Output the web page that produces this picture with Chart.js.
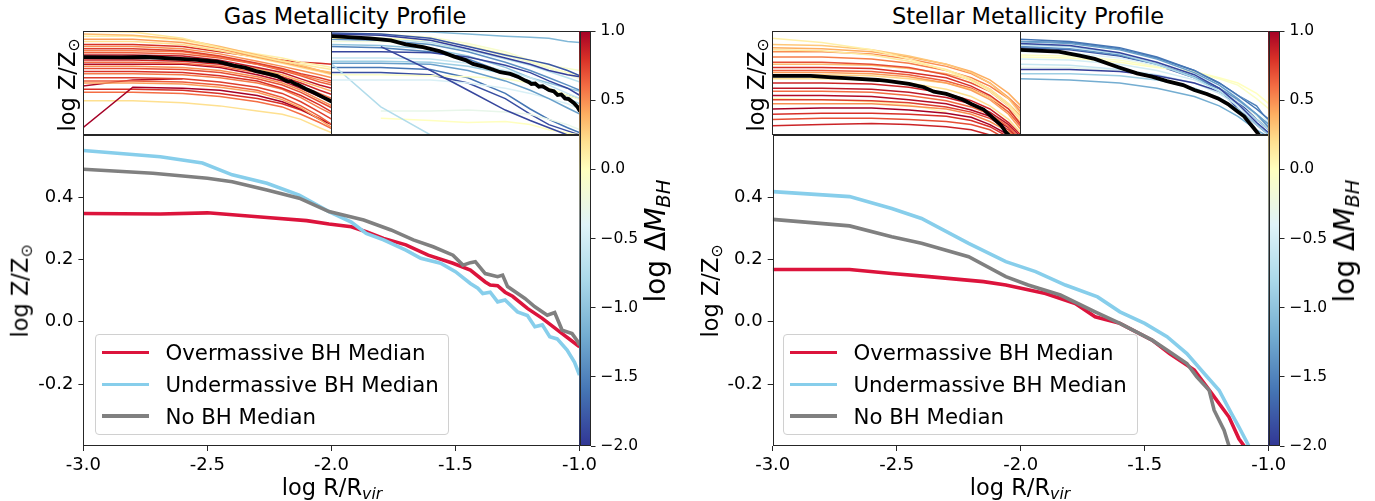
<!DOCTYPE html>
<html lang="en">
<head>
<meta charset="UTF-8">
<title>Gas and Stellar Metallicity Profiles</title>
<style>
    body { margin: 0; background: #fff; font-family: "DejaVu Sans", sans-serif; }
    #fig { position: relative; width: 1375px; height: 501px; overflow: hidden; }
    canvas { position: absolute; }
    .txt { position: absolute; white-space: nowrap; line-height: 1; color: #000; }
    .title { font-size: 22.5px; transform: translateX(-50%); }
    .xlabel { font-size: 22.5px; transform: translateX(-50%); }
    .vlabel { font-size: 22.5px; transform: translate(-50%, -50%) rotate(-90deg); }
    .cblabel { font-size: 28px; transform: translate(-50%, -50%) rotate(-90deg); }
    sub { font-size: 70%; vertical-align: -0.25em; line-height: 0; }
    .legend {
        position: absolute; box-sizing: border-box;
        border: 1px solid #d0d0d0; border-radius: 4px;
        background: rgba(255, 255, 255, 0.8);
    }
    .legend .row { position: absolute; left: 0; height: 22px; display: flex; align-items: center; font-size: 21.3px; white-space: nowrap; }
    .legend .swatch { display: inline-block; width: 47px; height: 3.6px; margin-left: 6px; margin-right: 16.5px; }
</style>
</head>
<body>
<div id="fig">
    <canvas id="gasMain" width="600" height="376" style="left:0px;top:125px"></canvas>
    <canvas id="gasOverInset" width="249" height="104" style="left:83px;top:31px"></canvas>
    <canvas id="gasUnderInset" width="249" height="104" style="left:331px;top:31px"></canvas>
    <canvas id="gasCbar" width="80" height="440" style="left:570px;top:20px"></canvas>

    <canvas id="starMain" width="600" height="376" style="left:690px;top:125px"></canvas>
    <canvas id="starOverInset" width="249" height="104" style="left:772px;top:31px"></canvas>
    <canvas id="starUnderInset" width="249" height="104" style="left:1020px;top:31px"></canvas>
    <canvas id="starCbar" width="80" height="440" style="left:1259px;top:20px"></canvas>

    <div class="txt title" style="left:345px;top:5px">Gas Metallicity Profile</div>
    <div class="txt title" style="left:1028px;top:5px">Stellar Metallicity Profile</div>

    <div class="txt vlabel" style="left:67px;top:85px">log Z/Z<sub>⊙</sub></div>
    <div class="txt vlabel" style="left:20px;top:291px">log Z/Z<sub>⊙</sub></div>
    <div class="txt vlabel" style="left:756px;top:85px">log Z/Z<sub>⊙</sub></div>
    <div class="txt vlabel" style="left:710px;top:291px">log Z/Z<sub>⊙</sub></div>

    <div class="txt xlabel" style="left:332px;top:476px">log R/R<sub><i>vir</i></sub></div>
    <div class="txt xlabel" style="left:1020px;top:476px">log R/R<sub><i>vir</i></sub></div>

    <div class="txt cblabel" style="left:656px;top:241px">log Δ<i>M</i><sub><i>BH</i></sub></div>
    <div class="txt cblabel" style="left:1345px;top:241px">log Δ<i>M</i><sub><i>BH</i></sub></div>

    <div class="legend" id="gasLegend" style="left:95px;top:334px;width:354px;height:101px"></div>
    <div class="legend" id="starLegend" style="left:783px;top:334px;width:355px;height:101px"></div>
</div>

<script src="https://cdn.jsdelivr.net/npm/chart.js"></script>
<script>
    // ---- data ----
    const xTicks = [-3.0, -2.5, -2.0, -1.5, -1.0];
    const yTicks = [-0.2, 0.0, 0.2, 0.4];
    const cbarTicks = [-2.0, -1.5, -1.0, -0.5, 0.0, 0.5, 1.0];

    const seriesNames = ['Overmassive BH Median', 'Undermassive BH Median', 'No BH Median'];
    const seriesColors = ['#dc143c', '#87ceeb', '#808080'];

    // gas metallicity medians
    const gasOverX = [-3.0, -2.69, -2.50, -2.26, -2.10, -2.01, -1.92, -1.86, -1.79, -1.70, -1.61, -1.51, -1.44, -1.38, -1.36, -1.33, -1.30, -1.27, -1.21, -1.15, -1.07, -1.0];
    const gasOverY = [0.348, 0.346, 0.350, 0.335, 0.325, 0.314, 0.305, 0.289, 0.268, 0.247, 0.214, 0.188, 0.166, 0.128, 0.118, 0.116, 0.095, 0.082, 0.043, 0.011, -0.038, -0.080];

    const gasUnderX = [-3.0, -2.69, -2.52, -2.40, -2.26, -2.13, -2.01, -1.92, -1.86, -1.79, -1.70, -1.64, -1.56, -1.50, -1.44, -1.41, -1.39, -1.36, -1.33, -1.30, -1.25, -1.21, -1.18, -1.15, -1.12, -1.09, -1.05, -1.02, -1.0];
    const gasUnderY = [0.55, 0.53, 0.51, 0.472, 0.445, 0.407, 0.354, 0.32, 0.284, 0.263, 0.23, 0.204, 0.188, 0.161, 0.123, 0.108, 0.091, 0.095, 0.064, 0.070, 0.032, 0.02, -0.016, -0.01, -0.048, -0.055, -0.091, -0.13, -0.171];

    const gasNoneX = [-3.0, -2.72, -2.50, -2.40, -2.26, -2.13, -2.01, -1.87, -1.76, -1.67, -1.59, -1.51, -1.47, -1.44, -1.42, -1.38, -1.33, -1.31, -1.29, -1.22, -1.18, -1.13, -1.10, -1.07, -1.03, -1.01, -1.0];
    const gasNoneY = [0.49, 0.477, 0.461, 0.45, 0.423, 0.397, 0.354, 0.327, 0.295, 0.263, 0.241, 0.214, 0.182, 0.19, 0.193, 0.155, 0.145, 0.15, 0.113, 0.075, 0.048, 0.021, 0.03, -0.027, -0.038, -0.06, -0.075];

    // stellar metallicity medians
    const starOverX = [-3.0, -2.69, -2.52, -2.37, -2.15, -2.06, -1.90, -1.78, -1.70, -1.60, -1.47, -1.40, -1.30, -1.23, -1.16, -1.12, -1.08];
    const starOverY = [0.168, 0.168, 0.155, 0.145, 0.129, 0.118, 0.091, 0.059, 0.016, -0.005, -0.059, -0.102, -0.155, -0.230, -0.306, -0.376, -0.42];

    const starUnderX = [-3.0, -2.69, -2.52, -2.40, -2.21, -2.06, -1.94, -1.82, -1.69, -1.60, -1.50, -1.41, -1.33, -1.26, -1.20, -1.15, -1.12, -1.08, -1.06];
    const starUnderY = [0.418, 0.402, 0.364, 0.332, 0.252, 0.193, 0.161, 0.118, 0.080, 0.032, -0.005, -0.048, -0.102, -0.166, -0.220, -0.295, -0.338, -0.399, -0.43];

    const starNoneX = [-3.0, -2.69, -2.52, -2.40, -2.21, -2.06, -1.97, -1.84, -1.70, -1.60, -1.47, -1.40, -1.33, -1.29, -1.24, -1.22, -1.18, -1.16, -1.15];
    const starNoneY = [0.329, 0.308, 0.273, 0.252, 0.209, 0.145, 0.118, 0.086, 0.032, -0.005, -0.059, -0.096, -0.134, -0.177, -0.220, -0.284, -0.348, -0.399, -0.43];

    // individual galaxy profiles for the insets (sampled at profileX)
    const profileX = [-3.0, -2.6, -2.2, -1.9, -1.6, -1.4, -1.25, -1.1, -1.0];

    const gasOverDM = [0.15, 0.35, 0.1, 0.45, 0.2, 0.8, 0.5, 0.75, 0.55, 0.65, 0.9, 0.4, 0.85, 0.6, 0.95, 0.5, 0.7, 0.8, 0.55, 0.75, 0.65, 0.45, 1.0, 0.95, 0.2, 0.6, 0.8];
    const gasOverProfiles = [
        [0.60, 0.59, 0.53, 0.44, 0.36, 0.31, 0.28, 0.25, 0.23],
        [0.57, 0.56, 0.52, 0.45, 0.37, 0.32, 0.27, 0.22, 0.20],
        [0.55, 0.55, 0.51, 0.44, 0.38, 0.34, 0.30, 0.27, 0.25],
        [0.52, 0.52, 0.49, 0.43, 0.35, 0.30, 0.26, 0.22, 0.19],
        [0.50, 0.50, 0.47, 0.41, 0.34, 0.29, 0.25, 0.21, 0.18],
        [0.47, 0.47, 0.45, 0.40, 0.35, 0.32, 0.30, 0.29, 0.28],
        [0.45, 0.45, 0.43, 0.38, 0.31, 0.26, 0.22, 0.18, 0.15],
        [0.43, 0.43, 0.41, 0.36, 0.29, 0.24, 0.19, 0.15, 0.12],
        [0.41, 0.41, 0.40, 0.35, 0.28, 0.23, 0.18, 0.13, 0.10],
        [0.39, 0.39, 0.38, 0.34, 0.28, 0.22, 0.17, 0.11, 0.08],
        [0.37, 0.37, 0.36, 0.32, 0.25, 0.20, 0.14, 0.08, 0.05],
        [0.35, 0.35, 0.34, 0.30, 0.24, 0.18, 0.12, 0.06, 0.02],
        [0.32, 0.32, 0.31, 0.28, 0.22, 0.16, 0.10, 0.03, -0.01],
        [0.30, 0.30, 0.29, 0.26, 0.20, 0.14, 0.07, 0.00, -0.05],
        [0.28, 0.28, 0.28, 0.25, 0.18, 0.12, 0.05, -0.03, -0.08],
        [0.26, 0.26, 0.25, 0.22, 0.16, 0.10, 0.03, -0.06, -0.12],
        [0.24, 0.24, 0.23, 0.20, 0.14, 0.08, 0.01, -0.08, -0.14],
        [0.21, 0.21, 0.20, 0.17, 0.12, 0.05, -0.02, -0.11, -0.18],
        [0.19, 0.19, 0.18, 0.15, 0.10, 0.04, -0.04, -0.14, -0.20],
        [0.15, 0.15, 0.14, 0.11, 0.06, 0.00, -0.08, -0.18, -0.25],
        [0.12, 0.12, 0.11, 0.08, 0.03, -0.04, -0.12, -0.22, -0.30],
        [0.10, 0.10, 0.09, 0.06, 0.01, -0.06, -0.14, -0.25, -0.33],
        [-0.33, 0.06, 0.05, 0.03, -0.02, -0.08, -0.15, -0.25, -0.30],
        [0.07, 0.13, 0.14, null, null, null, null, null, null],
        [-0.07, -0.07, -0.09, -0.12, -0.17, -0.20, -0.25, -0.33, -0.38],
        [0.01, 0.01, 0.00, -0.03, -0.08, -0.13, -0.20, -0.28, -0.34],
        [0.04, 0.04, 0.03, 0.00, -0.05, -0.10, -0.16, -0.24, -0.30]
    ];

    const gasUnderDM = [-1.1, -1.8, -1.95, -0.1, 0.0, -0.7, -1.4, -1.9, -1.9, -0.6, -0.9, -1.3, -0.05, -0.45, -0.75, -0.3, 0.0, -1.85, -1.6, -1.5, -1.0, -0.2];
    const gasUnderProfiles = [
        [0.60, 0.60, 0.59, 0.57, 0.55, 0.54, 0.53, 0.50, 0.49],
        [0.58, 0.57, 0.53, 0.45, 0.37, 0.32, 0.28, 0.22, 0.17],
        [0.57, 0.56, 0.51, 0.43, 0.34, 0.28, 0.22, 0.18, 0.16],
        [0.57, 0.57, 0.54, 0.48, 0.40, 0.32, 0.27, 0.24, 0.22],
        [0.53, 0.53, 0.51, 0.46, 0.38, 0.31, 0.25, 0.20, 0.17],
        [0.54, 0.53, 0.49, 0.42, 0.33, 0.27, 0.21, 0.15, 0.11],
        [0.52, 0.51, 0.47, 0.40, 0.30, 0.22, 0.15, 0.08, 0.03],
        [0.40, 0.40, 0.39, 0.35, 0.27, 0.20, 0.12, 0.05, -0.02],
        [null, 0.45, 0.22, 0.03, -0.16, -0.26, -0.33, -0.40, -0.45],
        [0.34, 0.34, 0.33, 0.29, 0.22, 0.15, 0.08, 0.00, -0.05],
        [0.31, 0.31, 0.30, 0.26, 0.19, 0.12, 0.04, -0.05, -0.10],
        [0.29, 0.29, 0.28, 0.22, 0.12, 0.03, -0.05, -0.14, -0.20],
        [0.18, 0.18, 0.17, 0.16, 0.14, 0.10, 0.05, -0.02, -0.06],
        [0.13, 0.13, 0.13, 0.10, 0.05, 0.00, -0.05, -0.10, -0.15],
        [0.29, -0.13, -0.40, null, null, null, null, null, null],
        [null, -0.17, -0.17, -0.16, -0.18, -0.20, -0.25, -0.30, -0.35],
        [null, -0.24, -0.26, -0.28, -0.27, -0.30, -0.35, -0.38, -0.40],
        [0.20, 0.20, 0.18, 0.10, -0.05, -0.20, -0.30, -0.36, -0.40],
        [0.25, 0.25, 0.23, 0.15, 0.00, -0.15, -0.25, -0.33, -0.38],
        [0.45, 0.44, 0.40, 0.33, 0.20, 0.10, 0.03, -0.02, -0.05],
        [0.47, 0.46, 0.43, 0.36, 0.25, 0.15, 0.10, 0.05, 0.02],
        [0.50, 0.50, 0.47, 0.42, 0.36, 0.30, 0.24, 0.18, 0.14]
    ];

    const starOverDM = [0.1, 0.3, 0.4, 0.15, 0.5, 0.55, 0.7, 0.8, 0.45, 0.2, 0.85, 0.9, 0.6, 0.95, 0.75, 0.5, 1.0, 0.8, 0.7, 0.85, 0.25, 0.35, 0.65, 0.05];
    const starOverProfiles = [
        [0.53, 0.49, 0.42, 0.33, 0.22, 0.12, 0.02, -0.12, -0.25],
        [0.47, 0.46, 0.42, 0.36, 0.28, 0.20, 0.10, -0.05, -0.20],
        [0.44, 0.43, 0.40, 0.35, 0.28, 0.21, 0.13, 0.00, -0.12],
        [0.42, 0.41, 0.37, 0.31, 0.23, 0.14, 0.04, -0.10, -0.25],
        [0.40, 0.40, 0.38, 0.33, 0.26, 0.19, 0.10, -0.04, -0.15],
        [0.35, 0.35, 0.33, 0.29, 0.22, 0.15, 0.07, -0.05, -0.18],
        [0.30, 0.30, 0.28, 0.25, 0.18, 0.10, 0.02, -0.12, -0.25],
        [0.25, 0.25, 0.24, 0.20, 0.15, 0.07, -0.02, -0.15, -0.30],
        [0.20, 0.20, 0.19, 0.16, 0.10, 0.03, -0.06, -0.20, -0.35],
        [0.14, 0.14, 0.13, 0.10, 0.04, -0.03, -0.12, -0.25, -0.38],
        [0.10, 0.10, 0.09, 0.06, 0.00, -0.07, -0.15, -0.28, -0.40],
        [0.05, 0.05, 0.04, 0.01, -0.04, -0.10, -0.18, -0.30, -0.42],
        [0.02, 0.02, 0.01, -0.02, -0.07, -0.13, -0.20, -0.32, -0.45],
        [-0.02, -0.02, -0.03, -0.06, -0.10, -0.16, -0.22, -0.33, -0.45],
        [-0.06, -0.06, -0.07, -0.09, -0.13, -0.18, -0.24, -0.35, -0.45],
        [-0.10, -0.10, -0.10, -0.12, -0.15, -0.20, -0.27, -0.37, -0.45],
        [-0.15, -0.14, -0.14, -0.16, -0.19, -0.23, -0.30, -0.40, -0.45],
        [-0.20, -0.19, -0.19, -0.20, -0.22, -0.26, -0.32, -0.42, null],
        [-0.25, -0.24, -0.24, -0.25, -0.27, -0.30, -0.35, -0.45, null],
        [-0.31, -0.30, -0.29, -0.30, -0.32, -0.35, -0.40, null, null],
        [0.18, 0.18, 0.17, 0.14, 0.10, 0.04, -0.04, -0.15, -0.28],
        [0.28, 0.28, 0.27, 0.24, 0.19, 0.13, 0.04, -0.10, -0.22],
        [0.22, 0.22, 0.21, 0.18, 0.12, 0.05, -0.04, -0.18, -0.32],
        [-0.05, -0.06, -0.08, -0.11, -0.18, null, null, null, null]
    ];

    const starUnderDM = [-1.6, -1.3, -1.9, -0.8, -1.4, -0.4, -0.05, 0.0, -0.5, -1.95, -0.9, -1.2, -0.6, -1.8, -0.3, -1.5];
    const starUnderProfiles = [
        [0.52, 0.50, 0.44, 0.35, 0.22, 0.10, -0.02, -0.15, -0.25],
        [0.50, 0.48, 0.42, 0.33, 0.20, 0.08, -0.05, -0.20, -0.30],
        [0.48, 0.46, 0.39, 0.30, 0.18, 0.05, -0.10, -0.28, -0.38],
        [0.47, 0.45, 0.38, 0.28, 0.15, 0.02, -0.10, -0.25, -0.35],
        [0.45, 0.43, 0.37, 0.28, 0.16, 0.05, -0.06, -0.20, -0.33],
        [0.40, 0.39, 0.34, 0.27, 0.18, 0.08, -0.02, -0.15, -0.28],
        [0.37, 0.36, 0.32, 0.26, 0.20, 0.14, 0.08, -0.05, -0.15],
        [0.35, 0.34, 0.30, 0.25, 0.21, 0.15, 0.10, 0.00, -0.10],
        [0.33, 0.32, 0.28, 0.22, 0.13, 0.03, -0.08, -0.20, -0.30],
        [0.23, 0.23, 0.21, 0.17, 0.10, 0.02, -0.08, -0.25, -0.35],
        [0.19, 0.19, 0.17, 0.13, 0.05, -0.04, -0.15, -0.30, -0.40],
        [0.14, 0.13, 0.10, 0.05, -0.03, -0.12, -0.22, -0.35, -0.42],
        [0.28, 0.27, 0.23, 0.18, 0.10, 0.00, -0.12, -0.28, -0.38],
        [0.44, 0.42, 0.36, 0.27, 0.15, 0.04, -0.15, -0.30, -0.40],
        [0.25, 0.25, 0.22, 0.17, 0.10, 0.02, -0.08, -0.22, -0.35],
        [0.50, 0.49, 0.43, 0.34, 0.22, 0.10, -0.02, -0.12, -0.28]
    ];

    // ---- helpers ----
    Chart.defaults.font.family = '"DejaVu Sans", sans-serif';
    Chart.defaults.color = '#000';
    Chart.defaults.animation = false;

    // RdYlBu reversed, centred on 0 (blue half -2..0, red half 0..1)
    const cmapStops = ['#313695', '#4575b4', '#74add1', '#abd9e9', '#e0f3f8', '#ffffbf', '#fee090', '#fdae61', '#f46d43', '#d73027', '#a50026'];
    const cmapValues = [-2.0, -1.6, -1.2, -0.8, -0.4, 0.0, 0.2, 0.4, 0.6, 0.8, 1.0];
    const cmin = -2, cmax = 1;

    function hexToRgb(h) {
        return [parseInt(h.slice(1, 3), 16), parseInt(h.slice(3, 5), 16), parseInt(h.slice(5, 7), 16)];
    }
    function cmap(v) {
        v = Math.max(cmin, Math.min(cmax, v));
        let i = 0;
        while (i < cmapValues.length - 2 && v > cmapValues[i + 1]) i++;
        const f = (v - cmapValues[i]) / (cmapValues[i + 1] - cmapValues[i]);
        const a = hexToRgb(cmapStops[i]), b = hexToRgb(cmapStops[i + 1]);
        const c = a.map((av, k) => Math.round(av + (b[k] - av) * f));
        return `rgb(${c[0]},${c[1]},${c[2]})`;
    }

    function toPoints(xs, ys) {
        return xs.map((x, i) => ({ x: x, y: ys[i] }));
    }

    // box around the plotting area
    const frame = {
        id: 'frame',
        afterDraw(chart) {
            const { ctx, chartArea: a } = chart;
            const l = Math.round(a.left), t = Math.round(a.top);
            const r = Math.round(a.right), b = Math.round(a.bottom);
            ctx.save();
            ctx.strokeStyle = '#262626';
            ctx.lineWidth = 1;
            ctx.strokeRect(l + 0.5, t + 0.5, r - l - 1, b - t - 1);
            ctx.restore();
        }
    };

    // gradient fill for the colorbar
    const cbarFill = {
        id: 'cbarFill',
        beforeDatasetsDraw(chart) {
            const { ctx, chartArea: a, scales } = chart;
            const y = scales.y;
            const g = ctx.createLinearGradient(0, y.getPixelForValue(cmin), 0, y.getPixelForValue(cmax));
            cmapStops.forEach((c, i) => g.addColorStop((cmapValues[i] - cmin) / (cmax - cmin), c));
            ctx.save();
            ctx.fillStyle = g;
            ctx.fillRect(a.left, a.top, a.right - a.left, a.bottom - a.top);
            ctx.restore();
        }
    };

    const tickGrid = { display: true, drawOnChartArea: false, drawTicks: true, tickLength: 5, color: '#262626', lineWidth: 1 };

    function noPadX(s) { s.paddingLeft = 0; s.paddingRight = 0; }
    function noPadY(s) { s.paddingTop = 0; s.paddingBottom = 0; }

    function mainChart(id, medians, areaLeft, padRight) {
        const datasets = medians.map((m, i) => ({
            label: seriesNames[i],
            data: toPoints(m[0], m[1]),
            borderColor: seriesColors[i],
            borderWidth: 3.6,
            pointRadius: 0,
            tension: 0,
            clip: 0,
            order: m[2]
        }));
        return new Chart(document.getElementById(id), {
            type: 'line',
            data: { datasets: datasets },
            options: {
                responsive: false,
                animation: false,
                layout: { padding: { top: 10, right: padRight, left: 0, bottom: 0 } },
                plugins: { legend: { display: false }, tooltip: { enabled: false } },
                scales: {
                    x: {
                        type: 'linear', min: -3, max: -1,
                        afterBuildTicks: s => { s.ticks = xTicks.map(v => ({ value: v })); },
                        afterFit: s => { s.height = 55; noPadX(s); },
                        ticks: { font: { size: 18 }, padding: 4, maxRotation: 0, callback: v => v.toFixed(1) },
                        grid: tickGrid,
                        border: { display: false }
                    },
                    y: {
                        type: 'linear', min: -0.399, max: 0.6,
                        afterBuildTicks: s => { s.ticks = yTicks.map(v => ({ value: v })); },
                        afterFit: s => { s.width = areaLeft; noPadY(s); },
                        ticks: { font: { size: 18 }, padding: 5, callback: v => v.toFixed(1) },
                        grid: tickGrid,
                        border: { display: false }
                    }
                }
            },
            plugins: [frame]
        });
    }

    function insetChart(id, dms, profiles, median) {
        const datasets = profiles.map((p, i) => ({
            data: toPoints(profileX, p),
            borderColor: cmap(dms[i]),
            borderWidth: 1.5,
            pointRadius: 0,
            tension: 0,
            clip: 0,
            order: 2
        }));
        datasets.push({
            data: toPoints(median[0], median[1]),
            borderColor: '#000',
            borderWidth: 3.8,
            pointRadius: 0,
            tension: 0,
            clip: 0,
            order: 0
        });
        return new Chart(document.getElementById(id), {
            type: 'line',
            data: { datasets: datasets },
            options: {
                responsive: false,
                animation: false,
                layout: { padding: 0 },
                plugins: { legend: { display: false }, tooltip: { enabled: false } },
                scales: {
                    x: { type: 'linear', min: -3, max: -1, display: false },
                    y: { type: 'linear', min: -0.4, max: 0.6, display: false }
                }
            },
            plugins: [frame]
        });
    }

    function colorbar(id) {
        return new Chart(document.getElementById(id), {
            type: 'line',
            data: { datasets: [{ data: [] }] },
            options: {
                responsive: false,
                animation: false,
                layout: { padding: { left: 9.5, top: 11, bottom: 14, right: 0 } },
                plugins: { legend: { display: false }, tooltip: { enabled: false } },
                scales: {
                    x: { type: 'linear', min: 0, max: 1, display: false },
                    y: {
                        type: 'linear', position: 'right', min: cmin, max: cmax,
                        afterBuildTicks: s => { s.ticks = cbarTicks.map(v => ({ value: v })); },
                        afterFit: s => { s.width = 59.5; noPadY(s); },
                        ticks: {
                            font: { size: 15.5 }, padding: 5,
                            callback: v => (v < 0 ? '\u2212' : '') + Math.abs(v).toFixed(1)
                        },
                        grid: tickGrid,
                        border: { display: false }
                    }
                }
            },
            plugins: [cbarFill, frame]
        });
    }

    function buildLegend(id) {
        const box = document.getElementById(id);
        seriesNames.forEach((name, i) => {
            const row = document.createElement('div');
            row.className = 'row';
            row.style.top = (6.7 + i * 31.7) + 'px';
            const sw = document.createElement('span');
            sw.className = 'swatch';
            sw.style.background = seriesColors[i];
            const tx = document.createElement('span');
            tx.textContent = name;
            row.appendChild(sw);
            row.appendChild(tx);
            box.appendChild(row);
        });
    }

    // ---- draw ----
    mainChart('gasMain', [[gasOverX, gasOverY, 3], [gasUnderX, gasUnderY, 2], [gasNoneX, gasNoneY, 1]], 83.4, 20.5);
    mainChart('starMain', [[starOverX, starOverY, 3], [starUnderX, starUnderY, 2], [starNoneX, starNoneY, 1]], 82.7, 21.3);

    insetChart('gasOverInset', gasOverDM, gasOverProfiles, [gasOverX, gasOverY]);
    insetChart('gasUnderInset', gasUnderDM, gasUnderProfiles, [gasUnderX, gasUnderY]);
    insetChart('starOverInset', starOverDM, starOverProfiles, [starOverX, starOverY]);
    insetChart('starUnderInset', starUnderDM, starUnderProfiles, [starUnderX, starUnderY]);

    colorbar('gasCbar');
    colorbar('starCbar');

    buildLegend('gasLegend');
    buildLegend('starLegend');
</script>
</body>
</html>
